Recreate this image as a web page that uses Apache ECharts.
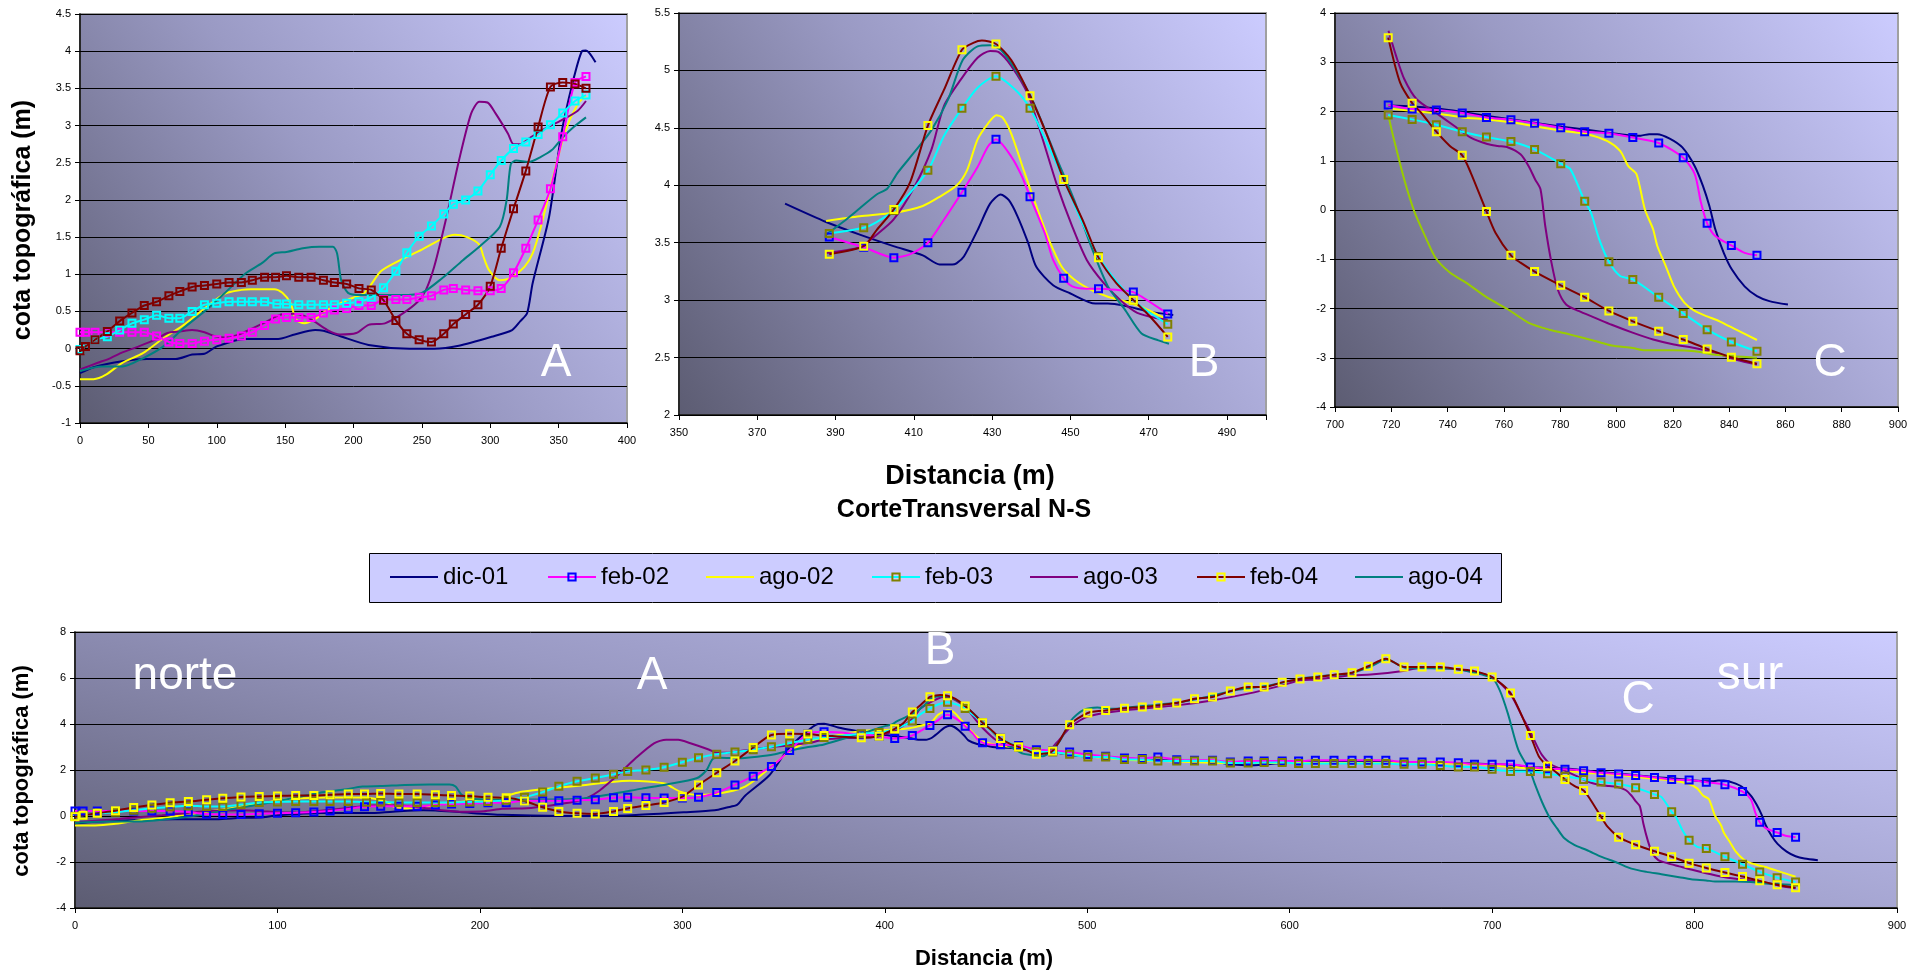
<!DOCTYPE html>
<html>
<head>
<meta charset="utf-8">
<script src="https://cdn.jsdelivr.net/npm/echarts@6/dist/echarts.min.js"></script>
<style>
html,body{margin:0;padding:0;background:#fff;}
#chart{width:1930px;height:975px;}
</style>
</head>
<body>
<div id="chart"></div>
<script>
// ---------------- DATA ----------------
const SERIES_NAMES = ['dic-01','feb-02','ago-02','feb-03','ago-03','feb-04','ago-04'];

// Panel A (0-400 m)
const A_DIC01 = [[0,-0.33],[10,-0.25],[31,-0.17],[49,-0.14],[70,-0.14],[82,-0.08],[91,-0.07],[100,0.03],[121,0.13],[145,0.13],[157,0.19],[172,0.25],[178,0.24],[190,0.17],[211,0.05],[241,0.0],[259,0.0],[277,0.04],[301,0.16],[316,0.25],[322,0.37],[327,0.48],[331,0.88],[343,1.77],[352,2.89],[360,3.56],[367,4.0],[370,4.01],[377,3.85]];
const A_FEB02 = [[0,0.22],[4,0.22],[11,0.22],[20,0.22],[29,0.22],[38,0.22],[47,0.22],[56,0.17],[65,0.09],[73,0.07],[82,0.07],[91,0.10],[100,0.12],[109,0.14],[118,0.17],[126,0.22],[135,0.31],[143,0.40],[151,0.42],[160,0.42],[169,0.42],[178,0.48],[186,0.52],[195,0.54],[204,0.58],[213,0.58],[222,0.66],[231,0.66],[239,0.66],[248,0.69],[257,0.71],[266,0.79],[273,0.81],[282,0.79],[291,0.78],[300,0.78],[308,0.81],[317,1.02],[326,1.35],[335,1.73],[344,2.15],[353,2.85],[362,3.58],[370,3.66]];
const A_AGO02 = [[0,-0.41],[10,-0.41],[19,-0.35],[31,-0.19],[46,-0.06],[61,0.14],[76,0.32],[91,0.54],[106,0.74],[118,0.79],[125,0.8],[142,0.8],[148,0.75],[154,0.61],[158,0.39],[164,0.34],[172,0.40],[181,0.52],[196,0.66],[208,0.75],[220,1.04],[232,1.17],[250,1.33],[265,1.48],[274,1.53],[283,1.5],[292,1.4],[295,1.24],[299,1.06],[307,0.92],[315,0.95],[325,1.1],[331,1.28],[337,1.64],[346,2.31],[355,2.93],[364,3.29],[370,3.4]];
const A_FEB03 = [[0,-0.01],[4,0.03],[11,0.12],[20,0.16],[29,0.25],[38,0.34],[47,0.39],[56,0.45],[65,0.41],[73,0.41],[82,0.5],[91,0.59],[100,0.61],[109,0.63],[118,0.63],[126,0.63],[135,0.63],[144,0.60],[151,0.6],[160,0.59],[169,0.59],[178,0.59],[186,0.59],[195,0.61],[204,0.63],[213,0.69],[222,0.82],[231,1.04],[239,1.29],[248,1.51],[257,1.65],[266,1.81],[273,1.94],[282,2.0],[291,2.12],[300,2.34],[308,2.53],[317,2.69],[326,2.78],[335,2.88],[344,3.01],[353,3.17],[362,3.33],[370,3.41]];
const A_AGO03 = [[0,-0.28],[13,-0.19],[22,-0.13],[31,-0.05],[43,0.03],[55,0.12],[64,0.21],[73,0.23],[82,0.25],[91,0.22],[100,0.16],[109,0.15],[120,0.22],[135,0.35],[147,0.46],[156,0.47],[164,0.44],[171,0.37],[181,0.25],[190,0.19],[202,0.21],[211,0.32],[223,0.34],[235,0.46],[247,0.63],[253,0.79],[259,1.1],[268,1.77],[277,2.52],[286,3.16],[292,3.32],[298,3.31],[304,3.16],[313,2.89],[317,2.75],[322,2.75],[328,2.82],[340,2.96],[352,3.07],[364,3.2],[370,3.33]];
const A_FEB04 = [[0,-0.03],[4,0.03],[11,0.12],[20,0.23],[29,0.37],[38,0.48],[47,0.58],[56,0.63],[65,0.71],[73,0.77],[82,0.83],[91,0.85],[100,0.87],[109,0.89],[118,0.89],[126,0.92],[135,0.96],[143,0.96],[151,0.98],[160,0.96],[169,0.96],[178,0.92],[186,0.89],[195,0.87],[204,0.81],[213,0.79],[222,0.65],[231,0.38],[239,0.20],[248,0.12],[257,0.09],[266,0.2],[273,0.33],[282,0.46],[291,0.59],[300,0.84],[308,1.35],[317,1.88],[326,2.39],[335,2.98],[344,3.52],[353,3.58],[362,3.56],[370,3.5]];
const A_AGO04 = [[0,-0.3],[16,-0.24],[31,-0.24],[46,-0.13],[61,0.03],[76,0.28],[91,0.5],[106,0.75],[121,1.01],[133,1.15],[142,1.28],[151,1.3],[163,1.35],[175,1.37],[185,1.37],[188,1.28],[191,0.92],[196,0.75],[205,0.72],[235,0.72],[250,0.75],[265,0.95],[280,1.19],[292,1.37],[307,1.64],[312,2.0],[315,2.48],[319,2.53],[328,2.51],[337,2.58],[345,2.67],[353,2.84],[361,2.98],[370,3.11]];

// Panel B (350-500 m)
const B_DIC01 = [[377.1,3.84],[387.6,3.68],[396.2,3.57],[404.8,3.47],[412.3,3.39],[416.6,3.31],[419.8,3.31],[420.9,3.32],[422.8,3.38],[426.3,3.61],[429.5,3.84],[432.2,3.92],[434.3,3.87],[436.5,3.73],[439.2,3.5],[441.3,3.29],[445.6,3.13],[449.9,3.06],[456.4,2.97],[459.6,2.97],[463.9,2.95],[470.3,2.9],[476.3,2.87]];
const B_FEB02_MARKS = [[388.4,3.55],[397.2,3.46],[404.9,3.37],[413.6,3.5],[422.3,3.94],[431,4.4],[439.7,3.9],[448.3,3.19],[457.2,3.10],[466.1,3.07],[474.9,2.88]];
const B_FEB02_CURVE = [[409.1,3.4],[417.7,3.7],[426.3,4.16],[429,4.34],[434.9,4.25],[437.6,4.08],[443.5,3.58],[445.6,3.35],[450.5,3.12],[454.2,3.1],[461.7,3.09],[468.2,3.03],[471.4,2.96]];
const B_AGO02 = [[387.6,3.69],[396.2,3.73],[404.8,3.76],[412.3,3.82],[416.6,3.9],[421,4.0],[423.6,4.13],[426.3,4.4],[429,4.54],[431.1,4.61],[432.7,4.59],[434.9,4.45],[438.1,4.13],[441.3,3.82],[444.6,3.52],[447.8,3.29],[451,3.18],[455.3,3.09],[459.6,3.03],[463.9,2.99],[468.2,2.94],[472.5,2.87],[474.9,2.83]];
const B_FEB03_MARKS = [[388.4,3.58],[397.2,3.63],[404.9,3.78],[413.6,4.13],[422.3,4.67],[431,4.95],[439.7,4.67],[448.3,4.05],[457.2,3.38],[466.1,3.0],[474.9,2.79]];
const B_FEB03_CURVE = [[400.5,3.68],[417.7,4.43],[426.3,4.85],[436,4.83],[444,4.37],[453.1,3.67],[460.7,3.21],[470.3,2.89]];
const B_AGO03 = [[387.6,3.41],[396.2,3.46],[400.5,3.57],[404.8,3.7],[410.2,3.99],[414.5,4.31],[417.7,4.69],[422,4.92],[426.3,5.11],[429.5,5.17],[431.7,5.16],[434.9,5.04],[439.2,4.79],[442.4,4.46],[446.7,3.99],[450.5,3.64],[454.2,3.35],[458.5,3.15],[462.8,3.0],[467.1,2.89],[472.5,2.84],[474.9,2.83]];
const B_FEB04_MARKS = [[388.4,3.4],[397.2,3.47],[404.9,3.79],[413.6,4.52],[422.3,5.18],[431,5.23],[439.7,4.78],[448.3,4.05],[457.2,3.37],[466.1,3.0],[474.9,2.68]];
const B_FEB04_CURVE = [[400.5,3.61],[409.1,4.03],[417.7,4.83],[425.2,5.24],[427.4,5.26],[434.9,5.09],[444,4.44],[453.1,3.7],[461.7,3.15],[470.3,2.86]];
const B_AGO04 = [[387.6,3.57],[391.9,3.68],[396.2,3.8],[400.5,3.92],[403.2,3.97],[405.9,4.11],[410.2,4.29],[414.5,4.48],[418.8,4.75],[422.5,5.09],[426.3,5.21],[429.5,5.22],[432.2,5.18],[435.9,5.01],[440.2,4.75],[446.7,4.22],[451,3.87],[455.3,3.47],[459.6,3.12],[463.9,2.92],[468.2,2.71],[472.5,2.65],[475.2,2.62]];

// Middle stretch (only in the full profile, ~478-718 m)
const M_DIC01 = [[485,2.75],[495,2.62],[510,2.55],[530,2.45],[550,2.38],[565,2.33],[571,2.25],[580,2.2],[589,2.25],[600,2.33],[640,2.35],[680,2.3],[700,2.25],[712,2.2]];
const M_FEB02_MARKS = [[483,2.85],[491.3,2.78],[500.3,2.67],[509.1,2.6],[518.4,2.52],[527.2,2.5],[534.9,2.57],[544.2,2.45],[553,2.42],[561.9,2.42],[570.7,2.35],[579.5,2.39],[587.4,2.39],[596.3,2.39],[604.4,2.39],[612.7,2.42],[621.9,2.42],[630.8,2.42],[638.8,2.42],[647.5,2.42],[656.5,2.35],[665.4,2.35],[674.4,2.35],[683.3,2.32],[691.3,2.25],[700,2.25],[709.1,2.25]];
const M_AGO02 = [[482,2.8],[490,2.7],[500,2.6],[520,2.45],[540,2.38],[570,2.3],[600,2.3],[640,2.3],[680,2.28],[700,2.2],[712,2.12]];
const M_FEB03_MARKS = [[483,2.78],[491.3,2.68],[500.3,2.57],[509.1,2.57],[518.4,2.46],[527.2,2.46],[534.9,2.39],[544.2,2.39],[553,2.39],[561.9,2.39],[570.7,2.3],[579.5,2.3],[587.4,2.33],[596.3,2.33],[604.4,2.28],[612.7,2.28],[621.9,2.28],[630.8,2.28],[638.8,2.28],[647.5,2.28],[656.5,2.25],[665.4,2.25],[674.4,2.2],[683.3,2.13],[691.3,2.13],[700,2.03],[709.1,1.94]];
const M_AGO03 = [[480,2.78],[485,3.2],[491.9,3.87],[500.7,4.33],[518.4,4.59],[544.2,4.81],[560,5.0],[579.5,5.32],[596.3,5.68],[605.1,5.9],[612.7,5.94],[630.8,6.12],[640,6.15],[656,6.3],[665,6.45],[683,6.38],[700,6.04],[709,5.3],[715,4.3]];
const M_FEB04_MARKS = [[482.9,2.83],[491.3,3.97],[500.3,4.48],[509.1,4.59],[518.4,4.68],[527.2,4.74],[534.9,4.81],[544.2,4.91],[553,5.1],[561.9,5.17],[570.7,5.43],[579.5,5.61],[587.4,5.61],[596.3,5.81],[605.1,5.96],[613.9,6.04],[622,6.14],[630.8,6.23],[638.8,6.51],[647.5,6.84],[656.5,6.48],[665.4,6.48],[674.4,6.48],[683.3,6.38],[691.3,6.3],[700,6.04],[709.1,5.35]];
const M_AGO04 = [[478,2.6],[486,3.2],[492,4.15],[498,4.6],[505,4.72],[512,4.66],[520,4.72],[530,4.8],[545,4.93],[560,5.2],[575,5.5],[590,5.68],[605,5.97],[620,6.12],[630,6.2],[640,6.5],[648,6.8],[657,6.45],[680,6.4],[690,6.25],[700,6.0],[703.8,5.46],[707.8,4.45],[713,2.86]];

// Panel C (700-900 m)
const C_DIC01 = [[719,2.12],[727.6,2.1],[736.4,2.06],[745.2,1.99],[754.1,1.91],[762.9,1.84],[771.8,1.76],[780.6,1.69],[789.5,1.63],[798.3,1.56],[805.7,1.51],[808.6,1.51],[811.6,1.54],[814.5,1.54],[818.9,1.45],[823.4,1.27],[827.8,0.89],[830.7,0.49],[833,0.08],[835.1,-0.39],[838.1,-0.87],[841,-1.21],[845.5,-1.55],[849.9,-1.75],[854.3,-1.85],[860.9,-1.92]];
const C_FEB02_MARKS = [[718.9,2.13],[727.4,2.05],[736,2.03],[745.2,1.97],[753.8,1.88],[762.5,1.83],[770.9,1.76],[780.2,1.67],[788.7,1.59],[797.3,1.56],[805.8,1.47],[815,1.36],[823.7,1.06],[832.2,-0.27],[840.8,-0.72],[849.9,-0.92]];
const C_FEB02_CURVE = [[827.8,0.73],[830,0.15],[835.1,-0.53],[845.5,-0.87]];
const C_AGO02 = [[719,2.06],[727.6,2.01],[736.4,1.96],[745.2,1.88],[754.1,1.84],[762.9,1.78],[771.8,1.69],[780.6,1.61],[789.5,1.54],[796.8,1.4],[801.3,1.2],[804.2,0.89],[807.1,0.73],[810.1,0.01],[813,-0.39],[814.5,-0.73],[817.5,-1.14],[820.4,-1.55],[824.1,-1.88],[827.8,-2.05],[832.2,-2.16],[836.6,-2.26],[842.5,-2.43],[849.9,-2.64]];
const C_FEB03_MARKS = [[718.9,1.93],[727.4,1.84],[736,1.73],[745.2,1.59],[753.8,1.48],[762.5,1.39],[770.9,1.23],[780.2,0.94],[788.7,0.18],[797.3,-1.05],[805.8,-1.41],[815,-1.77],[823.7,-2.1],[832.2,-2.43],[840.8,-2.68],[849.9,-2.87]];
const C_FEB03_CURVE = [[783.6,0.83],[790.9,-0.05],[793.9,-0.6],[801.3,-1.34]];
const C_AGO03 = [[719,3.64],[721.7,3.13],[724.6,2.66],[729,2.25],[736.4,1.95],[742.3,1.71],[748.2,1.47],[754.1,1.34],[757.8,1.3],[761.5,1.27],[765.9,1.13],[768.8,0.89],[771.1,0.62],[773,0.42],[774.7,-0.33],[776.9,-1.07],[779.1,-1.61],[782.1,-1.92],[786.5,-2.05],[792.4,-2.19],[798.3,-2.33],[805.7,-2.49],[813,-2.63],[820.4,-2.73],[827.8,-2.8],[835.1,-2.9],[842.5,-3.04],[849.9,-3.14]];
const C_FEB04_MARKS = [[718.9,3.5],[727.4,2.17],[736,1.59],[745.2,1.11],[753.8,-0.03],[762.5,-0.92],[770.9,-1.25],[780.2,-1.53],[788.7,-1.77],[797.3,-2.05],[805.8,-2.26],[815,-2.46],[823.7,-2.63],[832.2,-2.82],[840.8,-2.99],[849.9,-3.12]];
const C_FEB04_CURVE = [[723.1,2.59],[730.5,1.98],[740.8,1.3],[748.2,0.76],[757,-0.46],[765.9,-1.07]];
const C_AGO04 = [[719,1.91],[720.9,1.44],[724.6,0.62],[728.3,-0.05],[732,-0.53],[735.7,-0.97],[740.8,-1.27],[746.7,-1.48],[754.1,-1.78],[761.5,-2.02],[768.8,-2.29],[776.2,-2.43],[783.6,-2.53],[792.4,-2.66],[798.3,-2.75],[805.7,-2.8],[810.1,-2.85],[820.4,-2.85],[827.8,-2.87],[835.1,-2.94],[849.9,-3.0]];

// Axis tick settings
const A_X = {min:0, max:400, step:50};
const A_Y = {min:-1, max:4.5, step:0.5};
const B_X = {min:350, max:500, step:20};
const B_Y = {min:2, max:5.5, step:0.5};
const C_X = {min:700, max:900, step:20};
const C_Y = {min:-4, max:4, step:1};
const F_X = {min:0, max:900, step:100};
const F_Y = {min:-4, max:8, step:2};

// ---------------- STYLE ----------------
const FONT = "'Liberation Sans', Arial, sans-serif";
const COL = {
  'dic-01': '#000080', 'feb-02': '#ff00ff', 'ago-02': '#ffff00', 'feb-03': '#00ffff',
  'ago-03': '#800080', 'feb-04': '#800000', 'ago-04': '#008080'
};
const MARK = {'feb-02': '#0000ff', 'feb-03': '#808000', 'feb-04': '#ffff00'};

function items(curves, marks) {
  const out = [];
  curves.forEach(arr => arr.forEach(p => out.push({value: p, symbol: 'none'})));
  marks.forEach(arr => arr.forEach(p => out.push({value: p})));
  out.sort((a, b) => a.value[0] - b.value[0]);
  return out;
}

function lineSeries(name, grid, data, opts) {
  opts = opts || {};
  const color = opts.color || COL[name];
  return {
    name: name, type: 'line', xAxisIndex: grid, yAxisIndex: grid,
    data: data, smooth: 0.25, animation: false, silent: true,
    lineStyle: {color: color, width: 2},
    itemStyle: opts.mark
      ? {color: 'rgba(0,0,0,0)', borderColor: opts.mark, borderWidth: 2}
      : {color: 'rgba(0,0,0,0)', borderColor: 'rgba(0,0,0,0)', borderWidth: 0},
    emphasis: {disabled: true},
    symbol: opts.mark ? 'rect' : 'none',
    symbolSize: 7,
    clip: true
  };
}

const series = [];
// Full profile (grid 3) first so that the legend takes its marker styles
(function(){
  const g = 3;
  series.push(lineSeries('dic-01', g, [].concat(A_DIC01, B_DIC01, M_DIC01, C_DIC01)));
  series.push(lineSeries('ago-02', g, [].concat(A_AGO02, B_AGO02, M_AGO02, C_AGO02)));
  series.push(lineSeries('ago-03', g, [].concat(A_AGO03, B_AGO03, M_AGO03, C_AGO03)));
  series.push(lineSeries('ago-04', g, [].concat(A_AGO04, B_AGO04, M_AGO04, C_AGO04)));
  series.push(lineSeries('feb-02', g, items([B_FEB02_CURVE, C_FEB02_CURVE], [A_FEB02, B_FEB02_MARKS, M_FEB02_MARKS, C_FEB02_MARKS]), {mark: MARK['feb-02']}));
  series.push(lineSeries('feb-03', g, items([B_FEB03_CURVE, C_FEB03_CURVE], [A_FEB03, B_FEB03_MARKS, M_FEB03_MARKS, C_FEB03_MARKS]), {mark: MARK['feb-03']}));
  series.push(lineSeries('feb-04', g, items([B_FEB04_CURVE, C_FEB04_CURVE], [A_FEB04, B_FEB04_MARKS, M_FEB04_MARKS, C_FEB04_MARKS]), {mark: MARK['feb-04']}));
})();
// Panel B (grid 1)
series.push(lineSeries('dic-01', 1, B_DIC01));
series.push(lineSeries('ago-02', 1, B_AGO02));
series.push(lineSeries('ago-03', 1, B_AGO03));
series.push(lineSeries('ago-04', 1, B_AGO04));
series.push(lineSeries('feb-02', 1, items([B_FEB02_CURVE], [B_FEB02_MARKS]), {mark: MARK['feb-02']}));
series.push(lineSeries('feb-03', 1, items([B_FEB03_CURVE], [B_FEB03_MARKS]), {mark: MARK['feb-03']}));
series.push(lineSeries('feb-04', 1, items([B_FEB04_CURVE], [B_FEB04_MARKS]), {mark: MARK['feb-04']}));
// Panel C (grid 2)
series.push(lineSeries('dic-01', 2, C_DIC01));
series.push(lineSeries('ago-02', 2, C_AGO02));
series.push(lineSeries('ago-03', 2, C_AGO03));
series.push(lineSeries('ago-04', 2, C_AGO04, {color: '#99cc00'}));
series.push(lineSeries('feb-02', 2, items([C_FEB02_CURVE], [C_FEB02_MARKS]), {mark: MARK['feb-02']}));
series.push(lineSeries('feb-03', 2, items([C_FEB03_CURVE], [C_FEB03_MARKS]), {mark: MARK['feb-03']}));
series.push(lineSeries('feb-04', 2, items([C_FEB04_CURVE], [C_FEB04_MARKS]), {mark: MARK['feb-04']}));
// Panel A (grid 0)
series.push(lineSeries('dic-01', 0, A_DIC01));
series.push(lineSeries('ago-02', 0, A_AGO02));
series.push(lineSeries('ago-03', 0, A_AGO03));
series.push(lineSeries('ago-04', 0, A_AGO04));
series.push(lineSeries('feb-02', 0, items([], [A_FEB02]), {mark: COL['feb-02']}));
series.push(lineSeries('feb-03', 0, items([], [A_FEB03]), {mark: COL['feb-03']}));
series.push(lineSeries('feb-04', 0, items([], [A_FEB04]), {mark: COL['feb-04']}));

const STOPS = [
  {offset: 0, color: '#5c5c72'},
  {offset: 0.5, color: '#9a9ac4'},
  {offset: 1, color: '#ccccff'}
];
const BG = new echarts.graphic.LinearGradient(0, 1, 1, 0, STOPS);
// wide bottom panel: steeper diagonal so the left end is lighter at the top than at the bottom
const BG_WIDE = new echarts.graphic.LinearGradient(75, 908, 247, 220, STOPS, true);

function grid(l, t, w, h, bg) {
  return {left: l, top: t, width: w, height: h, show: true, backgroundColor: bg || BG,
          borderColor: '#a0a0a0', borderWidth: 2, containLabel: false};
}

function xAxis(gi, ax, hideMax) {
  return {
    type: 'value', gridIndex: gi, min: ax.min, max: ax.max, interval: ax.step,
    axisLine: {show: true, onZero: false, lineStyle: {color: '#000', width: 1.5}},
    axisTick: {show: true, inside: false, length: 5, lineStyle: {color: '#000'}},
    axisLabel: {color: '#000', fontSize: 11, fontFamily: FONT, margin: 12,
      showMaxLabel: true,
      formatter: v => (hideMax && v === ax.max) ? '' : String(v)},
    splitLine: {show: false}
  };
}
function yAxis(gi, ax) {
  return {
    type: 'value', gridIndex: gi, min: ax.min, max: ax.max, interval: ax.step,
    axisLine: {show: true, onZero: false, lineStyle: {color: '#000', width: 1.5}},
    axisTick: {show: true, inside: false, length: 5, lineStyle: {color: '#000'}},
    axisLabel: {color: '#000', fontSize: 11, fontFamily: FONT, margin: 9},
    splitLine: {show: true, lineStyle: {color: '#000', width: 1}}
  };
}

function txt(x, y, text, font, color, rot) {
  return {type: 'text', x: x, y: y, rotation: rot || 0, silent: true, z: 100,
    style: {text: text, font: font, fill: color || '#000', align: 'center', verticalAlign: 'middle'}};
}

// one legend component per entry, so that entries sit at fixed spacing like the original
const LEGEND_LEFT = [389, 547, 705, 871, 1029, 1196, 1354];
const legends = SERIES_NAMES.map((n, i) => ({
  data: [n], left: LEGEND_LEFT[i], top: 565, orient: 'horizontal',
  itemWidth: 48, itemHeight: 9, itemGap: 0, padding: 0, z: 10,
  selectedMode: false,
  textStyle: {color: '#000', fontSize: 24, fontFamily: FONT}
}));

const option = {
  backgroundColor: '#ffffff',
  animation: false,
  grid: [
    grid(80, 14, 547, 409),
    grid(679, 13, 587, 402),
    grid(1335, 13, 563, 394),
    grid(75, 632, 1822, 276, BG_WIDE)
  ],
  xAxis: [xAxis(0, A_X), xAxis(1, B_X, true), xAxis(2, C_X), xAxis(3, F_X)],
  yAxis: [yAxis(0, A_Y), yAxis(1, B_Y), yAxis(2, C_Y), yAxis(3, F_Y)],
  legend: legends,
  series: series,
  graphic: [
    {type: 'rect', x: 369.5, y: 553.5, z: 1, silent: true,
     shape: {width: 1132, height: 49},
     style: {fill: '#ccccff', stroke: '#000', lineWidth: 1}},
    txt(23, 220, 'cota topográfica (m)', 'bold 25px ' + FONT, '#000', Math.PI / 2),
    txt(22, 771, 'cota topográfica (m)', 'bold 22px ' + FONT, '#000', Math.PI / 2),
    txt(970, 477, 'Distancia (m)', 'bold 27px ' + FONT),
    txt(964, 510, 'CorteTransversal N-S', 'bold 25px ' + FONT),
    txt(984, 959, 'Distancia (m)', 'bold 22px ' + FONT),
    txt(556, 363, 'A', '46px ' + FONT, '#ffffff'),
    txt(1204, 363, 'B', '46px ' + FONT, '#ffffff'),
    txt(1830, 363, 'C', '46px ' + FONT, '#ffffff'),
    txt(185, 676, 'norte', '46px ' + FONT, '#ffffff'),
    txt(652, 676, 'A', '46px ' + FONT, '#ffffff'),
    txt(940, 651, 'B', '46px ' + FONT, '#ffffff'),
    txt(1638, 700, 'C', '46px ' + FONT, '#ffffff'),
    txt(1750, 676, 'sur', '48px ' + FONT, '#ffffff')
  ]
};

const chart = echarts.init(document.getElementById('chart'), null, {renderer: 'canvas', width: 1930, height: 975});
chart.setOption(option);
</script>
</body>
</html>
